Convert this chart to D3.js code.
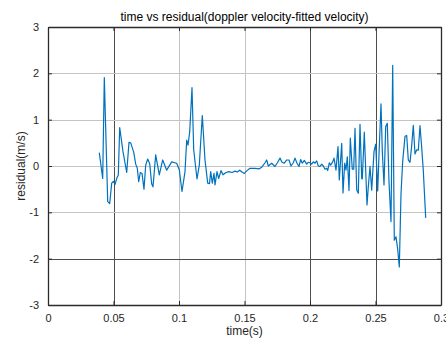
<!DOCTYPE html>
<html><head><meta charset="utf-8">
<script src="https://cdn.jsdelivr.net/npm/d3@7"></script>
<style>html,body{margin:0;padding:0;background:#fff}svg{display:block}</style>
</head><body>
<svg id="c" width="446" height="338"></svg>
<script>
const titleText = "time vs residual(doppler velocity-fitted velocity)";
const xLabel = "time(s)";
const yLabel = "residual(m/s)";
const xTicks = [0, 0.05, 0.1, 0.15, 0.2, 0.25, 0.3];
const xTickLabels = ["0", "0.05", "0.1", "0.15", "0.2", "0.25", "0.3"];
const yTicks = [-3, -2, -1, 0, 1, 2, 3];
const yTickLabels = ["-3", "-2", "-1", "0", "1", "2", "3"];
const darkX = [0.05, 0.2, 0.25];
const darkY = [-2];

const time = [0.03916,0.04176,0.04298,0.04557,0.0471,0.04863,0.04985,0.05115,0.05267,0.05366,
0.05473,0.05725,0.06008,0.06183,0.06313,0.06542,0.06695,0.06817,0.06924,0.07046,
0.07176,0.07328,0.07458,0.07611,0.07763,0.07916,0.08015,0.08221,0.08496,0.08756,
0.09061,0.09443,0.09824,0.10023,0.10229,0.10458,0.10588,0.10687,0.10817,0.10992,
0.11122,0.11374,0.1155,0.11779,0.11985,0.12191,0.12328,0.1242,0.12542,0.12672,
0.12748,0.12901,0.1303,0.13206,0.13359,0.13588,0.13817,0.14046,0.14275,0.1445,
0.14634,0.14809,0.14985,0.15191,0.1542,0.15802,0.1613,0.16336,0.16565,0.16695,
0.16817,0.17076,0.17328,0.17534,0.1771,0.17863,0.18038,0.18221,0.18397,0.1855,
0.18725,0.18855,0.19008,0.1916,0.1929,0.19412,0.19565,0.19748,0.1987,0.2,
0.2013,0.20252,0.20382,0.20511,0.20634,0.20763,0.20893,0.21015,0.21145,0.21275,
0.21351,0.21473,0.2158,0.21733,0.21832,0.21985,0.22137,0.22237,0.2242,0.22519,
0.22649,0.22748,0.22847,0.22977,0.23076,0.23229,0.23336,0.23435,0.23565,0.23687,
0.23817,0.23947,0.23992,0.24145,0.24351,0.2445,0.2458,0.2471,0.24885,0.25015,
0.25168,0.25267,0.2542,0.2552,0.25649,0.25779,0.25901,0.26031,0.26183,0.26313,
0.26435,0.26565,0.26695,0.26817,0.26947,0.27076,0.27252,0.27382,0.27504,0.27634,
0.27763,0.27885,0.28015,0.28145,0.28267,0.28397,0.28527,0.28649,0.28832];
const residual = [0.29,-0.27,1.91,-0.77,-0.81,-0.37,-0.33,-0.40,-0.25,-0.2,
0.83,0.31,-0.14,0.51,0.5,0.3,0.04,-0.05,-0.34,-0.14,
-0.16,-0.5,0.02,0.15,0.05,-0.39,-0.45,0.24,-0.19,0.13,
-0.09,0.09,0.06,-0.08,-0.55,-0.12,0.56,0.45,0.74,1.69,
0.35,-0.28,0.02,1.09,0.13,-0.37,-0.38,-0.12,-0.37,-0.16,
-0.41,-0.12,-0.27,-0.1,-0.19,-0.14,-0.12,-0.14,-0.11,-0.13,
-0.09,-0.13,-0.16,-0.1,-0.05,-0.05,-0.06,-0.02,0.07,0.13,
0,0.06,-0.01,0.08,0.17,0.08,0.06,0.13,0.13,0,
0.07,0.17,0.06,-0.01,0.14,0.06,0.12,0.04,0.08,0.07,
0.04,0.09,0.06,0.11,0.0,-0.01,0.04,0.0,-0.07,-0.05,
-0.1,0.07,0.02,0.09,0.17,-0.09,0.42,-0.3,0.49,-0.58,
0.06,-0.09,0.2,-0.53,0.6,-0.07,-0.07,0.81,-0.52,-0.59,
0.9,-0.27,-0.28,0.73,-0.84,-0.45,-0.01,-0.52,0.31,0.47,
-0.54,0.25,1.34,0.31,-0.41,0.85,0.92,-0.35,-1.2,2.17,
-1.6,-1.53,-1.8,-2.18,-0.6,0.1,0.64,0.66,0.13,0.08,
0.44,0.88,0.26,0.35,0.34,0.87,0.4,-0.1,-1.12];

const svg = d3.select("#c");
const L = 48, R = 441, T = 27, B = 305;
const x = d3.scaleLinear().domain([0, 0.3]).range([L, R]);
const y = d3.scaleLinear().domain([-3, 3]).range([B, T]);
const font = "'Liberation Sans', Arial, Helvetica, sans-serif";
const txtCol = "#262626";

// grid
svg.append("g").selectAll("line").data(xTicks.slice(1, -1)).join("line")
  .attr("x1", d => Math.round(x(d)) + 0.5).attr("x2", d => Math.round(x(d)) + 0.5)
  .attr("y1", T).attr("y2", B)
  .attr("stroke", d => darkX.includes(d) ? "#4d4d4d" : "#c4c4c4").attr("stroke-width", 1);
svg.append("g").selectAll("line").data(yTicks.slice(1, -1)).join("line")
  .attr("y1", d => Math.round(y(d)) + 0.5).attr("y2", d => Math.round(y(d)) + 0.5)
  .attr("x1", L).attr("x2", R)
  .attr("stroke", d => darkY.includes(d) ? "#4d4d4d" : "#c4c4c4").attr("stroke-width", 1);

// data line
const line = d3.line().x((d, i) => x(time[i])).y(d => y(d));
svg.append("path").datum(residual).attr("d", line)
  .attr("fill", "none").attr("stroke", "#0072BD").attr("stroke-width", 1.2)
  .attr("stroke-linejoin", "round");

// axes via d3 (inward ticks)
const xAxisB = d3.axisBottom(x).tickValues(xTicks).tickFormat((d, i) => xTickLabels[i]).tickSizeInner(-4).tickSizeOuter(0).tickPadding(9);
const xAxisT = d3.axisTop(x).tickValues(xTicks).tickFormat("").tickSizeInner(-4).tickSizeOuter(0);
const yAxisL = d3.axisLeft(y).tickValues(yTicks).tickFormat((d, i) => yTickLabels[i]).tickSizeInner(-4).tickSizeOuter(0).tickPadding(9);
const yAxisR = d3.axisRight(y).tickValues(yTicks).tickFormat("").tickSizeInner(-4).tickSizeOuter(0);

function style(g){
  g.select(".domain").attr("stroke", "#2b2b2b").attr("stroke-width", 1.3);
  g.selectAll(".tick line").attr("stroke", "#2b2b2b");
  g.selectAll("text").attr("fill", txtCol).style("font-family", font).style("font-size", "11px");
}
svg.append("g").attr("transform", `translate(0,${B})`).call(xAxisB).call(style);
svg.append("g").attr("transform", `translate(0,${T})`).call(xAxisT).call(style);
svg.append("g").attr("transform", `translate(${L},0)`).call(yAxisL).call(style);
svg.append("g").attr("transform", `translate(${R},0)`).call(yAxisR).call(style);

// title and labels
svg.append("text").attr("x", (L + R) / 2).attr("y", 21).attr("text-anchor", "middle")
  .style("font-family", font).style("font-size", "12px").attr("fill", "#000").text(titleText);
svg.append("text").attr("x", (L + R) / 2).attr("y", 335).attr("text-anchor", "middle")
  .style("font-family", font).style("font-size", "12px").attr("fill", txtCol).text(xLabel);
svg.append("text").attr("transform", `translate(25,${(T + B) / 2}) rotate(-90)`).attr("text-anchor", "middle")
  .style("font-family", font).style("font-size", "12px").attr("fill", txtCol).text(yLabel);
</script>
</body></html>
